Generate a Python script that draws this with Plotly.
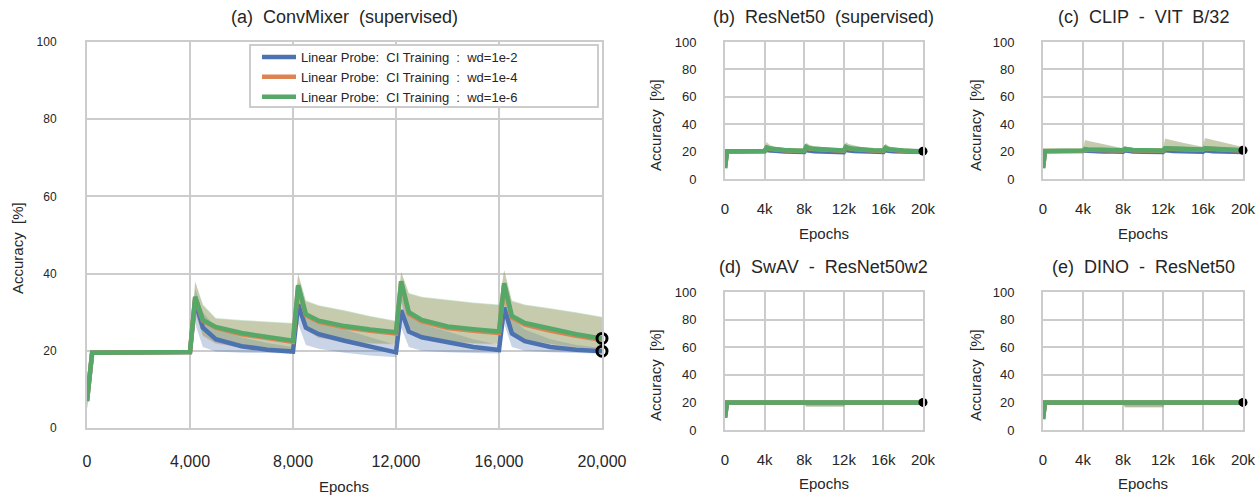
import plotly.graph_objects as go

# ---------------- data ----------------
EPOCHS = [0, 200, 4000, 4200, 4500, 5000, 6000, 7000, 8000, 8200, 8500, 9000, 10000, 11000,
          12000, 12200, 12500, 13000, 14000, 15000, 16000, 16200, 16500, 17000, 18000, 19000, 20000]

SP = " \u00a0"  # wide word gap as in the reference
SERIES_NAMES = [f"Linear Probe:{SP}CI Training{SP}:{SP}wd=1e-2",
                f"Linear Probe:{SP}CI Training{SP}:{SP}wd=1e-4",
                f"Linear Probe:{SP}CI Training{SP}:{SP}wd=1e-6"]

PANEL_TITLES = [f"(a){SP}ConvMixer{SP}(supervised)", f"(b){SP}ResNet50{SP}(supervised)",
                f"(c){SP}CLIP{SP}-{SP}VIT{SP}B/32", f"(d){SP}SwAV{SP}-{SP}ResNet50w2",
                f"(e){SP}DINO{SP}-{SP}ResNet50"]
X_TITLE = "Epochs"
Y_TITLE = f"Accuracy{SP}[%]"

MAIN_X_TICKS = [0, 4000, 8000, 12000, 16000, 20000]
SMALL_X_TICKS = [0, 4000, 8000, 12000, 16000, 20000]
SMALL_X_TEXT = ["0", "4k", "8k", "12k", "16k", "20k"]
Y_TICKS = [0, 20, 40, 60, 80, 100]

# (a) ConvMixer
a_blue = [7.0, 19.5, 19.7, 33.0, 26.0, 23.0, 21.2, 20.3, 19.8, 32.0, 26.0, 24.3, 22.6, 21.0,
          19.6, 30.5, 25.0, 23.5, 22.2, 21.0, 20.2, 31.2, 24.5, 22.5, 21.0, 20.3, 19.9]
a_blue_lo = [5.0, 19.0, 19.3, 27.0, 21.0, 19.8, 19.5, 19.4, 19.3, 27.0, 21.5, 20.5, 19.5, 18.8,
             18.3, 26.0, 21.0, 20.0, 19.6, 19.4, 19.3, 27.0, 21.0, 20.0, 19.6, 19.4, 19.3]
a_blue_hi = [9.0, 20.0, 20.1, 36.0, 30.0, 26.0, 23.5, 22.0, 21.0, 35.0, 30.0, 28.0, 25.5, 23.5,
             21.5, 35.0, 29.0, 27.0, 25.0, 23.0, 21.5, 35.5, 28.5, 25.5, 23.0, 21.5, 20.7]
a_orange = [7.0, 19.5, 19.7, 33.8, 27.8, 26.0, 24.3, 23.2, 22.3, 36.8, 29.2, 27.5, 26.1, 25.2,
            24.5, 37.8, 29.6, 27.6, 25.9, 25.2, 24.6, 37.2, 28.6, 26.8, 25.2, 23.9, 22.8]
a_orange_lo = [5.0, 19.0, 19.3, 29.8, 23.8, 21.8, 20.8, 20.3, 20.1, 31.8, 25.3, 23.3, 22.3, 21.8,
               21.6, 32.8, 25.8, 23.8, 22.3, 21.8, 21.6, 31.8, 24.8, 22.8, 21.6, 20.8, 20.3]
a_orange_hi = [9.0, 20.0, 20.1, 37.8, 31.8, 28.3, 27.8, 27.4, 27.0, 39.8, 32.8, 31.6, 30.3, 28.8,
               27.6, 40.3, 34.8, 33.8, 33.0, 32.3, 31.8, 40.8, 32.8, 31.8, 30.8, 29.8, 28.6]
a_green = [7.0, 19.5, 19.7, 34.0, 28.0, 26.2, 24.6, 23.5, 22.6, 37.0, 29.5, 27.8, 26.4, 25.5,
           24.8, 38.0, 30.0, 28.0, 26.3, 25.6, 25.0, 37.5, 29.0, 27.2, 25.6, 24.3, 23.2]
a_green_lo = [5.0, 19.0, 19.3, 30.0, 24.0, 22.0, 21.0, 20.5, 20.3, 32.0, 25.5, 23.5, 22.5, 22.0,
              21.8, 33.0, 26.0, 24.0, 22.5, 22.0, 21.8, 32.0, 25.0, 23.0, 21.8, 21.0, 20.5]
a_green_hi = [9.0, 20.0, 20.1, 38.0, 32.0, 28.5, 28.0, 27.6, 27.2, 40.0, 33.0, 31.8, 30.5, 29.0,
              27.8, 40.5, 35.0, 34.0, 33.2, 32.5, 32.0, 41.0, 33.0, 32.0, 31.0, 30.0, 28.8]

# (b) ResNet50
b_blue = [8.0, 20.0, 20.2, 22.0, 21.0, 20.4, 20.0, 19.8, 19.7, 21.8, 20.8, 20.3, 19.9, 19.7,
          19.6, 22.0, 21.0, 20.4, 20.0, 19.8, 19.7, 21.5, 20.6, 20.2, 19.9, 19.8, 19.7]
b_blue_lo = [7.0, 19.3, 19.5, 20.8, 20.0, 19.5, 19.2, 19.0, 19.0, 20.6, 19.8, 19.4, 19.1, 19.0,
             18.9, 20.8, 20.0, 19.5, 19.2, 19.0, 19.0, 20.4, 19.7, 19.4, 19.2, 19.1, 19.0]
b_blue_hi = [9.0, 20.8, 21.0, 24.0, 22.8, 21.8, 21.0, 20.6, 20.4, 23.8, 22.6, 21.8, 21.0, 20.5,
             20.3, 24.0, 22.8, 21.8, 21.0, 20.6, 20.4, 23.5, 22.2, 21.5, 20.8, 20.5, 20.4]
b_orange = [8.0, 20.1, 20.4, 22.8, 22.0, 21.4, 20.9, 20.6, 20.4, 23.3, 22.3, 21.8, 21.2, 20.8,
            20.6, 23.3, 22.4, 21.8, 21.1, 20.8, 20.6, 22.6, 21.6, 21.1, 20.6, 20.3, 20.1]
b_orange_lo = [7.0, 19.5, 19.7, 20.9, 20.4, 19.9, 19.7, 19.5, 19.4, 20.9, 20.2, 19.9, 19.6, 19.4,
               19.3, 20.9, 20.3, 19.9, 19.6, 19.4, 19.3, 20.7, 20.0, 19.7, 19.5, 19.4, 19.3]
b_orange_hi = [9.0, 20.9, 21.2, 26.8, 24.8, 23.3, 22.3, 21.8, 21.4, 26.3, 24.8, 23.8, 22.8, 22.1,
               21.6, 26.8, 25.3, 24.3, 22.8, 22.1, 21.6, 25.8, 23.8, 22.8, 21.8, 21.3, 20.8]
b_green = [8.0, 20.2, 20.5, 23.0, 22.2, 21.6, 21.1, 20.8, 20.6, 23.5, 22.5, 22.0, 21.4, 21.0,
           20.8, 23.5, 22.6, 22.0, 21.3, 21.0, 20.8, 22.8, 21.8, 21.3, 20.8, 20.5, 20.3]
b_green_lo = [7.0, 19.5, 19.8, 21.0, 20.5, 20.0, 19.8, 19.6, 19.5, 21.0, 20.3, 20.0, 19.7, 19.5,
              19.4, 21.0, 20.4, 20.0, 19.7, 19.5, 19.4, 20.8, 20.1, 19.8, 19.6, 19.5, 19.4]
b_green_hi = [9.0, 21.0, 21.3, 27.0, 25.0, 23.5, 22.5, 22.0, 21.6, 26.5, 25.0, 24.0, 23.0, 22.3,
              21.8, 27.0, 25.5, 24.5, 23.0, 22.3, 21.8, 26.0, 24.0, 23.0, 22.0, 21.5, 21.0]

# (c) CLIP
c_blue = [8.0, 20.2, 20.4, 21.0, 20.6, 20.3, 20.1, 20.0, 19.9, 21.0, 20.4, 20.1, 19.9, 19.8,
          19.8, 21.2, 20.8, 20.5, 20.2, 20.0, 19.9, 21.0, 20.6, 20.3, 20.0, 19.8, 19.7]
c_blue_lo = [7.0, 19.5, 19.7, 20.0, 19.8, 19.6, 19.4, 19.3, 19.2, 20.0, 19.6, 19.3, 19.1, 19.0,
             19.0, 20.2, 19.9, 19.6, 19.4, 19.2, 19.1, 20.0, 19.7, 19.4, 19.2, 19.0, 19.0]
c_blue_hi = [9.0, 20.9, 21.1, 23.0, 22.5, 22.0, 21.5, 21.0, 20.7, 22.5, 21.6, 21.0, 20.7, 20.6,
             20.6, 24.0, 23.5, 23.0, 22.0, 21.2, 20.8, 24.0, 23.5, 22.8, 21.8, 21.0, 20.5]
c_orange = [8.0, 20.4, 20.6, 21.6, 21.4, 21.3, 21.1, 21.0, 20.8, 21.8, 21.3, 21.0, 20.8, 20.6,
            20.6, 22.3, 22.1, 22.0, 21.8, 21.6, 21.4, 22.3, 22.1, 21.8, 21.5, 21.2, 20.8]
c_orange_lo = [7.0, 19.5, 19.7, 20.1, 19.9, 19.8, 19.7, 19.6, 19.6, 19.9, 19.7, 19.5, 19.4, 19.4,
               19.4, 20.2, 20.0, 19.9, 19.7, 19.6, 19.5, 20.2, 19.9, 19.7, 19.5, 19.4, 19.3]
c_orange_hi = [9.0, 21.2, 21.5, 28.2, 27.8, 26.8, 25.3, 23.8, 22.3, 23.8, 22.8, 22.1, 21.6, 21.4,
               21.3, 29.2, 28.8, 27.8, 26.3, 24.8, 23.3, 29.8, 29.3, 28.3, 26.3, 24.8, 23.1]
c_green = [8.0, 20.5, 20.8, 21.8, 21.6, 21.5, 21.3, 21.2, 21.0, 22.0, 21.5, 21.2, 21.0, 20.8,
           20.8, 22.5, 22.3, 22.2, 22.0, 21.8, 21.6, 22.5, 22.3, 22.0, 21.7, 21.4, 21.0]
c_green_lo = [7.0, 19.6, 19.8, 20.2, 20.0, 19.9, 19.8, 19.7, 19.7, 20.0, 19.8, 19.6, 19.5, 19.5,
              19.5, 20.3, 20.1, 20.0, 19.8, 19.7, 19.6, 20.3, 20.0, 19.8, 19.6, 19.5, 19.4]
c_green_hi = [9.0, 21.3, 21.6, 28.5, 28.0, 27.0, 25.5, 24.0, 22.5, 24.0, 23.0, 22.3, 21.8, 21.6,
              21.5, 29.5, 29.0, 28.0, 26.5, 25.0, 23.5, 30.0, 29.5, 28.5, 26.5, 25.0, 23.3]

# (d) SwAV
d_blue = [9.0, 19.8, 19.8, 19.9, 19.9, 19.8, 19.8, 19.8, 19.8, 19.3, 19.3, 19.3, 19.3, 19.3,
          19.3, 19.6, 19.6, 19.6, 19.6, 19.6, 19.6, 19.8, 19.8, 19.8, 19.8, 19.8, 19.8]
d_blue_lo = [8.0, 19.2, 19.2, 19.2, 19.2, 19.2, 19.2, 19.2, 19.2, 17.2, 17.2, 17.2, 17.2, 17.2,
             17.2, 19.0, 19.0, 19.0, 19.0, 19.0, 19.0, 19.2, 19.2, 19.2, 19.2, 19.2, 19.2]
d_blue_hi = [10.0, 20.5, 20.5, 20.6, 20.6, 20.5, 20.5, 20.5, 20.5, 20.2, 20.2, 20.2, 20.2, 20.2,
             20.2, 20.3, 20.3, 20.3, 20.3, 20.3, 20.3, 20.5, 20.5, 20.5, 20.5, 20.5, 20.5]
d_orange = [9.0, 19.9, 19.9, 20.0, 20.0, 19.9, 19.9, 19.9, 19.9, 19.4, 19.4, 19.4, 19.4, 19.4,
            19.4, 19.7, 19.7, 19.7, 19.7, 19.7, 19.7, 19.9, 19.9, 19.9, 19.9, 19.9, 19.9]
d_orange_lo = [8.0, 19.1, 19.1, 19.1, 19.1, 19.1, 19.1, 19.1, 19.1, 17.0, 17.0, 17.0, 17.0, 17.0,
               17.0, 18.9, 18.9, 18.9, 18.9, 18.9, 18.9, 19.1, 19.1, 19.1, 19.1, 19.1, 19.1]
d_orange_hi = [10.0, 20.6, 20.6, 20.7, 20.7, 20.6, 20.6, 20.6, 20.6, 20.2, 20.2, 20.2, 20.2, 20.2,
               20.2, 20.4, 20.4, 20.4, 20.4, 20.4, 20.4, 20.6, 20.6, 20.6, 20.6, 20.6, 20.6]
d_green = [9.0, 20.0, 20.0, 20.1, 20.1, 20.0, 20.0, 20.0, 20.0, 19.5, 19.5, 19.5, 19.5, 19.5,
           19.5, 19.8, 19.8, 19.8, 19.8, 19.8, 19.8, 20.0, 20.0, 20.0, 20.0, 20.0, 20.0]
d_green_lo = [8.0, 19.0, 19.0, 19.0, 19.0, 19.0, 19.0, 19.0, 19.0, 16.9, 16.9, 16.9, 16.9, 16.9,
              16.9, 18.8, 18.8, 18.8, 18.8, 18.8, 18.8, 19.0, 19.0, 19.0, 19.0, 19.0, 19.0]
d_green_hi = [10.0, 20.7, 20.7, 20.8, 20.8, 20.7, 20.7, 20.7, 20.7, 20.3, 20.3, 20.3, 20.3, 20.3,
              20.3, 20.5, 20.5, 20.5, 20.5, 20.5, 20.5, 20.7, 20.7, 20.7, 20.7, 20.7, 20.7]

# (e) DINO
e_blue = [8.0, 19.8, 19.8, 19.8, 19.8, 19.8, 19.8, 19.8, 19.8, 19.2, 19.2, 19.2, 19.2, 19.2,
          19.2, 19.5, 19.5, 19.5, 19.5, 19.5, 19.5, 19.7, 19.7, 19.7, 19.7, 19.7, 19.8]
e_blue_lo = [7.0, 19.2, 19.2, 19.2, 19.2, 19.2, 19.2, 19.2, 19.2, 16.8, 16.8, 16.8, 16.8, 16.8,
             16.8, 18.9, 18.9, 18.9, 18.9, 18.9, 18.9, 19.1, 19.1, 19.1, 19.1, 19.1, 19.2]
e_blue_hi = [9.0, 20.5, 20.5, 20.5, 20.5, 20.5, 20.5, 20.5, 20.5, 20.1, 20.1, 20.1, 20.1, 20.1,
             20.1, 20.2, 20.2, 20.2, 20.2, 20.2, 20.2, 20.4, 20.4, 20.4, 20.4, 20.4, 20.5]
e_orange = [8.0, 19.9, 19.9, 19.9, 19.9, 19.9, 19.9, 19.9, 19.9, 19.3, 19.3, 19.3, 19.3, 19.3,
            19.3, 19.6, 19.6, 19.6, 19.6, 19.6, 19.6, 19.8, 19.8, 19.8, 19.8, 19.8, 19.9]
e_orange_lo = [7.0, 19.1, 19.1, 19.1, 19.1, 19.1, 19.1, 19.1, 19.1, 16.5, 16.5, 16.5, 16.5, 16.5,
               16.5, 18.8, 18.8, 18.8, 18.8, 18.8, 18.8, 19.0, 19.0, 19.0, 19.0, 19.0, 19.1]
e_orange_hi = [9.0, 20.6, 20.6, 20.6, 20.6, 20.6, 20.6, 20.6, 20.6, 20.2, 20.2, 20.2, 20.2, 20.2,
               20.2, 20.3, 20.3, 20.3, 20.3, 20.3, 20.3, 20.5, 20.5, 20.5, 20.5, 20.5, 20.6]
e_green = [8.0, 20.0, 20.0, 20.0, 20.0, 20.0, 20.0, 20.0, 20.0, 19.4, 19.4, 19.4, 19.4, 19.4,
           19.4, 19.7, 19.7, 19.7, 19.7, 19.7, 19.7, 19.9, 19.9, 19.9, 19.9, 19.9, 20.0]
e_green_lo = [7.0, 19.0, 19.0, 19.0, 19.0, 19.0, 19.0, 19.0, 19.0, 16.3, 16.3, 16.3, 16.3, 16.3,
              16.3, 18.7, 18.7, 18.7, 18.7, 18.7, 18.7, 18.9, 18.9, 18.9, 18.9, 18.9, 19.0]
e_green_hi = [9.0, 20.7, 20.7, 20.7, 20.7, 20.7, 20.7, 20.7, 20.7, 20.3, 20.3, 20.3, 20.3, 20.3,
              20.3, 20.4, 20.4, 20.4, 20.4, 20.4, 20.4, 20.6, 20.6, 20.6, 20.6, 20.6, 20.7]

PANELS = [
    [(a_blue, a_blue_lo, a_blue_hi), (a_orange, a_orange_lo, a_orange_hi), (a_green, a_green_lo, a_green_hi)],
    [(b_blue, b_blue_lo, b_blue_hi), (b_orange, b_orange_lo, b_orange_hi), (b_green, b_green_lo, b_green_hi)],
    [(c_blue, c_blue_lo, c_blue_hi), (c_orange, c_orange_lo, c_orange_hi), (c_green, c_green_lo, c_green_hi)],
    [(d_blue, d_blue_lo, d_blue_hi), (d_orange, d_orange_lo, d_orange_hi), (d_green, d_green_lo, d_green_hi)],
    [(e_blue, e_blue_lo, e_blue_hi), (e_orange, e_orange_lo, e_orange_hi), (e_green, e_green_lo, e_green_hi)],
]

# ---------------- style ----------------
W, H = 1257, 498
FONT = "Liberation Sans, Arial, Helvetica, sans-serif"
TXT = "#262626"
GRID = "#cccccc"
LINE_COLORS = ["#4C72B0", "#DD8452", "#55A868"]
FILL_COLORS = ["rgba(76,114,176,0.3)", "rgba(221,132,82,0.3)", "rgba(85,168,104,0.3)"]

# plot boxes in pixels: (left, right, top, bottom)
BOXES = [(87, 602, 42, 428), (725, 923, 42, 179), (1043, 1243, 42, 179),
         (725, 923, 292, 430), (1043, 1243, 292, 430)]
TITLE_Y = [17, 17, 17, 267, 267]
XLABEL_Y = [486, 233, 233, 483, 483]
YLABEL_POS = [(17, 248), (655, 125), (975, 125), (655, 375), (975, 375)]
LEGEND_BOX = (250, 598, 45, 107)

fig = go.Figure()

for p, series in enumerate(PANELS):
    xa = "x" if p == 0 else f"x{p+1}"
    ya = "y" if p == 0 else f"y{p+1}"
    for s, (mean, lo, hi) in enumerate(series):
        fig.add_trace(go.Scatter(
            x=EPOCHS + EPOCHS[::-1], y=hi + lo[::-1], fill="toself",
            fillcolor=FILL_COLORS[s], line=dict(width=0), mode="lines",
            hoverinfo="skip", showlegend=False, xaxis=xa, yaxis=ya))
    for s, (mean, lo, hi) in enumerate(series):
        fig.add_trace(go.Scatter(
            x=EPOCHS, y=mean, mode="lines", name=SERIES_NAMES[s],
            line=dict(color=LINE_COLORS[s], width=4.5),
            showlegend=(p == 0), xaxis=xa, yaxis=ya))
    if p == 0:
        fig.add_trace(go.Scatter(
            x=[EPOCHS[-1], EPOCHS[-1]], y=[series[2][0][-1], series[0][0][-1]],
            mode="markers", marker=dict(symbol="circle-open", size=10, color="black",
                                        line=dict(width=3, color="black")),
            showlegend=False, cliponaxis=False, xaxis=xa, yaxis=ya))
    else:
        fig.add_trace(go.Scatter(
            x=[EPOCHS[-1]], y=[series[2][0][-1]], mode="markers",
            marker=dict(symbol="circle", size=9, color="black"),
            showlegend=False, cliponaxis=False, xaxis=xa, yaxis=ya))

lx0, lx1, ly0, ly1 = LEGEND_BOX
layout = dict(
    width=W, height=H, margin=dict(l=0, r=0, t=0, b=0, autoexpand=False),
    paper_bgcolor="white", plot_bgcolor="white",
    font=dict(family=FONT, color=TXT),
    legend=dict(x=(lx0 + 7) / W, xanchor="left", y=1 - (ly0 - 3) / H, yanchor="top",
                bgcolor="rgba(0,0,0,0)", borderwidth=0, tracegroupgap=0,
                font=dict(size=13, color=TXT, family=FONT), itemwidth=34),
    shapes=[dict(type="rect", xref="paper", yref="paper",
                 x0=lx0 / W, x1=lx1 / W, y0=1 - ly1 / H, y1=1 - ly0 / H,
                 line=dict(color=GRID, width=2), fillcolor="white", layer="above")],
    annotations=[],
)

for p, (l, r, t, b) in enumerate(BOXES):
    xk = "xaxis" if p == 0 else f"xaxis{p+1}"
    yk = "yaxis" if p == 0 else f"yaxis{p+1}"
    ya_name = "y" if p == 0 else f"y{p+1}"
    xa_name = "x" if p == 0 else f"x{p+1}"
    main = p == 0
    layout[xk] = dict(
        domain=[l / W, r / W], anchor=ya_name, range=[0, 20000], automargin=False,
        tickvals=MAIN_X_TICKS if main else SMALL_X_TICKS,
        ticktext=None if main else SMALL_X_TEXT,
        tickformat=",d" if main else None,
        showgrid=True, gridcolor=GRID, gridwidth=2, zeroline=False,
        showline=True, linecolor=GRID, linewidth=2, mirror=True,
        ticks="outside", ticklen=18 if main else 15, tickcolor="rgba(0,0,0,0)",
        tickfont=dict(size=16 if main else 15, color=TXT, family=FONT),
    )
    layout[yk] = dict(
        domain=[1 - b / H, 1 - t / H], anchor=xa_name, range=[0, 100], automargin=False,
        tickvals=Y_TICKS,
        showgrid=True, gridcolor=GRID, gridwidth=2, zeroline=False,
        showline=True, linecolor=GRID, linewidth=2, mirror=True,
        ticks="outside", ticklen=26 if main else 24, tickcolor="rgba(0,0,0,0)",
        tickfont=dict(size=12 if main else 13, color=TXT, family=FONT),
    )
    cx = (l + r) / 2
    layout["annotations"].append(dict(
        text=PANEL_TITLES[p], x=cx / W, y=1 - TITLE_Y[p] / H, xref="paper", yref="paper",
        xanchor="center", yanchor="middle", showarrow=False,
        font=dict(size=18, color=TXT, family=FONT)))
    layout["annotations"].append(dict(
        text=X_TITLE, x=cx / W, y=1 - XLABEL_Y[p] / H, xref="paper", yref="paper",
        xanchor="center", yanchor="middle", showarrow=False,
        font=dict(size=15, color=TXT, family=FONT)))
    yx, yy = YLABEL_POS[p]
    layout["annotations"].append(dict(
        text=Y_TITLE, x=yx / W, y=1 - yy / H, xref="paper", yref="paper",
        xanchor="center", yanchor="middle", showarrow=False, textangle=-90,
        font=dict(size=15, color=TXT, family=FONT)))

fig.update_layout(layout)
fig.write_html("out.html", config={"displayModeBar": False},
               post_script="document.body.style.margin='0';document.body.style.overflow='hidden';")
